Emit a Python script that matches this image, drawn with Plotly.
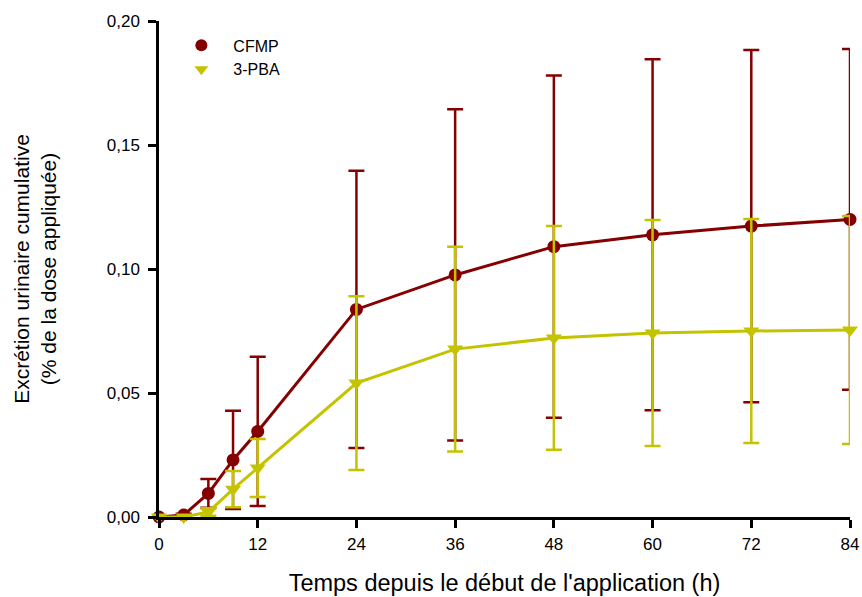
import plotly.graph_objects as go

# Data
hours = [0, 3, 6, 9, 12, 24, 36, 48, 60, 72, 84]
cfmp_mean = [0.0, 0.0008, 0.0095, 0.023, 0.0345, 0.0837, 0.0976, 0.109, 0.1138, 0.1173, 0.120]
cfmp_sd = [0.0, 0.0005, 0.0058, 0.0198, 0.0301, 0.0559, 0.0668, 0.069, 0.0708, 0.071, 0.0687]
pba_mean = [0.0, 0.0, 0.002, 0.0112, 0.0198, 0.054, 0.0677, 0.0722, 0.0742, 0.075, 0.0754]
pba_sd = [0.0, 0.0, 0.0015, 0.0073, 0.0117, 0.035, 0.0413, 0.0451, 0.0456, 0.0452, 0.046]
x_ticks = [0, 12, 24, 36, 48, 60, 72, 84]
y_ticks = [0.0, 0.05, 0.10, 0.15, 0.20]

RED = "#850000"
YEL = "#C3C300"
FONT = "Liberation Sans, Arial, sans-serif"

fig = go.Figure()

fig.add_trace(go.Scatter(
    x=hours, y=cfmp_mean, mode="lines+markers", name="CFMP", showlegend=False,
    line=dict(color=RED, width=3),
    marker=dict(symbol="circle", size=13, color=RED),
    error_y=dict(type="data", array=cfmp_sd, visible=True, color=RED, thickness=2.5, width=8),
    cliponaxis=False,
))
fig.add_trace(go.Scatter(
    x=hours, y=pba_mean, mode="lines+markers", name="3-PBA", showlegend=False,
    line=dict(color=YEL, width=3),
    marker=dict(symbol="triangle-down", size=14, color=YEL),
    error_y=dict(type="data", array=pba_sd, visible=True, color=YEL, thickness=2.5, width=8),
    cliponaxis=False,
))
# legend-only entries (markers only)
fig.add_trace(go.Scatter(
    x=[None], y=[None], mode="markers", name="CFMP",
    marker=dict(symbol="circle", size=14, color=RED),
))
fig.add_trace(go.Scatter(
    x=[None], y=[None], mode="markers", name="3-PBA",
    marker=dict(symbol="triangle-down", size=14, color=YEL),
))

fig.update_layout(
    width=862, height=597,
    margin=dict(l=159, r=12, t=21, b=80, autoexpand=False),
    plot_bgcolor="white", paper_bgcolor="white",
    separators=",.",
    font=dict(family=FONT, size=17, color="black"),
    legend=dict(x=0.015, y=0.985, xanchor="left", yanchor="top",
                bgcolor="rgba(0,0,0,0)", font=dict(size=16, color="black"),
                itemsizing="constant", itemwidth=54, tracegroupgap=0),
    xaxis=dict(
        range=[0, 84], tickvals=x_ticks, ticktext=[str(v) for v in x_ticks],
        showgrid=False, zeroline=False, showline=True, linecolor="black", linewidth=2.5,
        ticks="outside", ticklen=8, tickwidth=2.5, tickcolor="black",
        ticklabelstandoff=2, automargin=False,
        title=dict(text="Temps depuis le début de l'application (h)", font=dict(size=23.5), standoff=22),
    ),
    yaxis=dict(
        range=[0, 0.2], tickvals=y_ticks, tickformat=".2f",
        showgrid=False, zeroline=False, showline=True, linecolor="black", linewidth=2.5,
        ticks="outside", ticklen=8, tickwidth=2.5, tickcolor="black",
        ticklabelstandoff=5, automargin=False,
        title=dict(text="Excrétion urinaire cumulative<br>(% de la dose appliquée)", font=dict(size=21), standoff=45),
    ),
)

fig.write_html("out.html", config={"displayModeBar": False},
               post_script="document.body.style.margin='0';")
